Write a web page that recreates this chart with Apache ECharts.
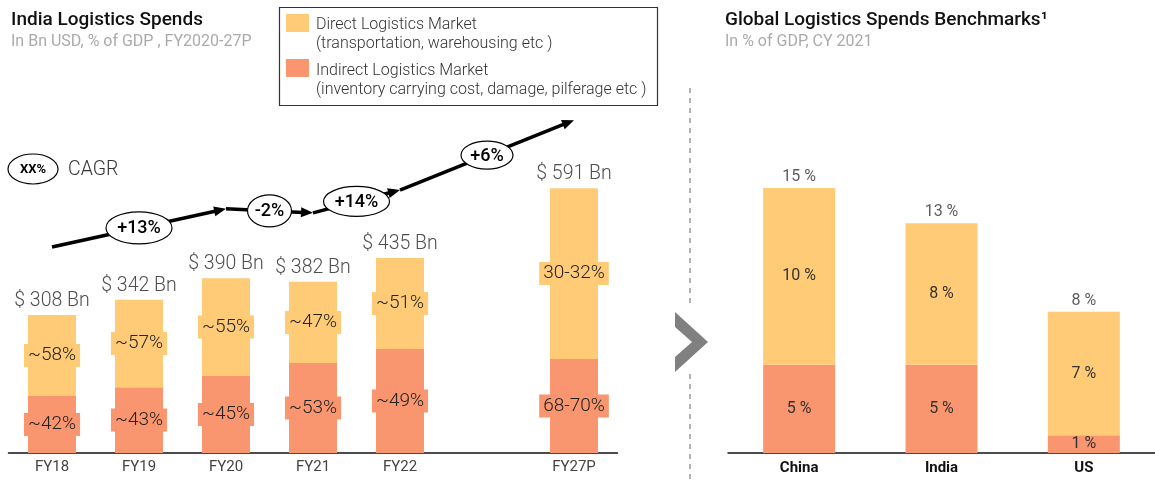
<!DOCTYPE html>
<html>
<head>
<meta charset="utf-8">
<script src="https://cdn.jsdelivr.net/npm/echarts@6/dist/echarts.min.js"></script>
<style>
  html, body { margin: 0; padding: 0; background: #fff; }
  #main { width: 1155px; height: 481px; }
</style>
</head>
<body>
<div id="main"></div>
<script>
// India logistics spends, Bn USD
var years = ['FY18', 'FY19', 'FY20', 'FY21', 'FY22', '', 'FY27P'];
var totalSpend = [308, 342, 390, 382, 435, null, 591];
var indirectSpend = [127, 147, 172, 201, 232, null, 210];
var directSpend = [181, 195, 218, 181, 203, null, 381];
var directShare = ['~58%', '~57%', '~55%', '~47%', '~51%', '', '30-32%'];
var indirectShare = ['~42%', '~43%', '~45%', '~53%', '~49%', '', '68-70%'];

// CAGR arrow: points as [year index, Bn level] and the labels between them
var cagrPath = [[0, 460], [2, 545], [3, 536], [4, 587], [6, 743]];
var cagrLabels = ['+13%', '-2%', '+14%', '+6%'];

// global benchmarks, % of GDP
var countries = ['China', 'India', 'US'];
var globalIndirect = [5, 5, 1];
var globalDirect = [10, 8, 7];
var globalTotal = [15, 13, 8];

var directColor = '#FFCB77';
var indirectColor = '#F9956F';
var font = 'Roboto, "Noto Sans", sans-serif';

var chart = echarts.init(document.getElementById('main'));

function shareLabel(list, color) {
  return {
    show: true,
    position: 'inside',
    formatter: function (p) { return list[p.dataIndex]; },
    fontFamily: font,
    fontWeight: 300,
    fontSize: 19,
    color: '#222',
    backgroundColor: color,
    padding: [2, 4]
  };
}

var option = {
  animation: false,
  title: [{
    left: 11, top: 11, padding: 0,
    text: 'India Logistics Spends',
    subtext: 'In Bn USD, % of GDP , FY2020-27P',
    itemGap: 4,
    textStyle: { fontFamily: font, fontSize: 19, fontWeight: 500, color: '#111' },
    subtextStyle: { fontFamily: font, fontSize: 16, color: '#aaa' }
  }, {
    left: 725, top: 11, padding: 0,
    text: 'Global Logistics Spends Benchmarks\u00b9',
    subtext: 'In % of GDP, CY 2021',
    itemGap: 4,
    textStyle: { fontFamily: font, fontSize: 19, fontWeight: 500, color: '#111' },
    subtextStyle: { fontFamily: font, fontSize: 16, color: '#aaa' }
  }],
  grid: [
    { left: 8.5, width: 609, top: 94.6, bottom: 28 },
    { left: 728, width: 432, top: 99.7, bottom: 28 }
  ],
  xAxis: [{
    type: 'category', gridIndex: 0, data: years,
    axisLine: { lineStyle: { color: '#111', width: 1.5 } },
    axisTick: { show: false },
    axisLabel: { fontFamily: font, fontSize: 15, color: '#444', margin: 7 }
  }, {
    type: 'category', gridIndex: 1, data: countries,
    axisLine: { lineStyle: { color: '#111', width: 1.5 } },
    axisTick: { show: false },
    axisLabel: { fontFamily: font, fontSize: 15, fontWeight: 'bold', color: '#111', margin: 8 }
  }],
  yAxis: [
    { type: 'value', gridIndex: 0, min: 0, max: 800, show: false },
    { type: 'value', gridIndex: 1, min: 0, max: 20, show: false }
  ],
  series: [{
    name: 'Indirect Logistics Market', type: 'bar', stack: 'india',
    xAxisIndex: 0, yAxisIndex: 0, barWidth: 48,
    itemStyle: { color: indirectColor },
    label: shareLabel(indirectShare, indirectColor),
    data: indirectSpend
  }, {
    name: 'Direct Logistics Market', type: 'bar', stack: 'india',
    xAxisIndex: 0, yAxisIndex: 0, barWidth: 48,
    itemStyle: { color: directColor },
    label: shareLabel(directShare, directColor),
    data: directSpend
  }, {
    name: 'Total', type: 'scatter', xAxisIndex: 0, yAxisIndex: 0,
    symbolSize: 0, silent: true,
    label: {
      show: true, position: 'top', distance: 4,
      formatter: function (p) { return '$ ' + p.value + ' Bn'; },
      fontFamily: font, fontWeight: 300, fontSize: 19.5, color: '#222'
    },
    data: totalSpend
  }, {
    name: 'Indirect', type: 'bar', stack: 'global',
    xAxisIndex: 1, yAxisIndex: 1, barWidth: 72,
    itemStyle: { color: indirectColor },
    label: { show: true, position: 'inside', formatter: '{c} %', fontFamily: font, fontSize: 16, color: '#333' },
    data: globalIndirect
  }, {
    name: 'Direct', type: 'bar', stack: 'global',
    xAxisIndex: 1, yAxisIndex: 1, barWidth: 72,
    itemStyle: { color: directColor },
    label: { show: true, position: 'inside', formatter: '{c} %', fontFamily: font, fontSize: 16, color: '#333' },
    data: globalDirect
  }, {
    name: 'GlobalTotal', type: 'scatter', xAxisIndex: 1, yAxisIndex: 1,
    symbolSize: 0, silent: true,
    label: { show: true, position: 'top', distance: 3, formatter: '{c} %', fontFamily: font, fontSize: 16, color: '#333' },
    data: globalTotal
  }]
};

chart.setOption(option);

// annotations: legend box, CAGR arrows, separator
function txt(x, y, text, size, weight, color, align) {
  return {
    type: 'text', z: 100,
    style: {
      x: x, y: y, text: text, fill: color || '#333',
      font: (weight || 300) + ' ' + size + 'px ' + font,
      align: align || 'left', verticalAlign: 'middle',
      textAlign: align || 'left', textVerticalAlign: 'middle'
    }
  };
}

var g = [];
g.push({ type: 'rect', z: 100, shape: { x: 279.5, y: 7.5, width: 378, height: 98 },
  style: { fill: '#fff', stroke: '#333', lineWidth: 1.2 } });
g.push({ type: 'rect', z: 100, shape: { x: 286, y: 14, width: 23, height: 18 }, style: { fill: directColor } });
g.push({ type: 'rect', z: 100, shape: { x: 286, y: 59, width: 23, height: 18 }, style: { fill: indirectColor } });
g.push(txt(316, 25, 'Direct Logistics Market', 16));
g.push(txt(316, 44, '(transportation, warehousing etc )', 16));
g.push(txt(316, 71, 'Indirect Logistics Market', 16));
g.push(txt(316, 90, '(inventory carrying cost, damage, pilferage etc )', 16));

// CAGR key
g.push({ type: 'ellipse', z: 100, shape: { cx: 33, cy: 169, rx: 25, ry: 15 },
  style: { fill: '#fff', stroke: '#000', lineWidth: 1.2 } });
g.push(txt(33, 170, 'XX%', 13, 'bold', '#000', 'center'));
g.push(txt(68, 170, 'CAGR', 19.5, 300, '#333'));

var ovalSize = [[33, 16], [22, 16], [33, 15], [26, 14]];
var pts = cagrPath.map(function (d) {
  return chart.convertToPixel({ xAxisIndex: 0, yAxisIndex: 0 }, d);
});
for (var i = 0; i < pts.length - 1; i++) {
  var a = pts[i], b = pts[i + 1];
  var dx = b[0] - a[0], dy = b[1] - a[1];
  var len = Math.sqrt(dx * dx + dy * dy);
  var ux = dx / len, uy = dy / len;
  var hl = 12, hw = 5;
  var bx = b[0] - ux * hl, by = b[1] - uy * hl;
  g.push({ type: 'line', z: 99, shape: { x1: a[0], y1: a[1], x2: bx + ux * 2, y2: by + uy * 2 },
    style: { stroke: '#000', lineWidth: 3.5 } });
  g.push({ type: 'polygon', z: 99, shape: { points: [
    [b[0], b[1]], [bx - uy * hw, by + ux * hw], [bx + uy * hw, by - ux * hw]
  ] }, style: { fill: '#000' } });
  var cx = (a[0] + b[0]) / 2, cy = (a[1] + b[1]) / 2;
  g.push({ type: 'ellipse', z: 100, shape: { cx: cx, cy: cy, rx: ovalSize[i][0], ry: ovalSize[i][1] },
    style: { fill: '#fff', stroke: '#000', lineWidth: 1.2 } });
  g.push(txt(cx, cy + 1, cagrLabels[i], 18, 500, '#000', 'center'));
}

// separator and chevron
g.push({ type: 'line', z: 100, shape: { x1: 690, y1: 88, x2: 690, y2: 306 },
  style: { stroke: '#999', lineWidth: 1.5, lineDash: [5, 5] } });
g.push({ type: 'line', z: 100, shape: { x1: 690, y1: 374, x2: 690, y2: 481 },
  style: { stroke: '#999', lineWidth: 1.5, lineDash: [5, 5] } });
g.push({ type: 'polygon', z: 100, shape: { points: [
  [675, 312], [708, 342], [675, 372], [675, 357], [692, 342], [675, 327]
] }, style: { fill: '#808080' } });

chart.setOption({ graphic: g });
</script>
</body>
</html>
